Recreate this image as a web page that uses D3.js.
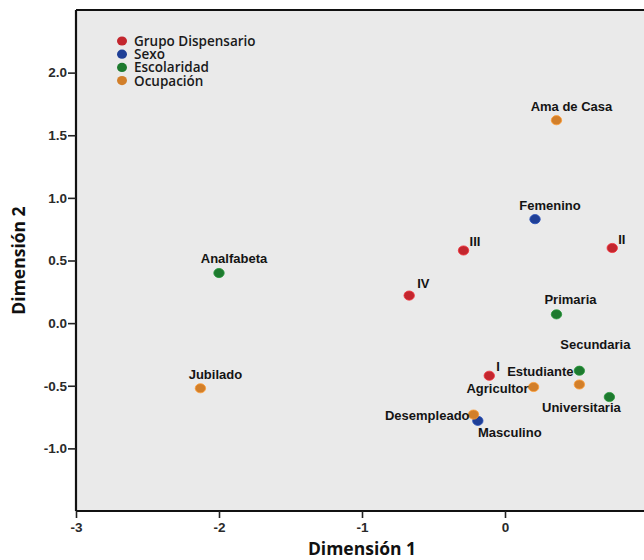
<!DOCTYPE html>
<html>
<head>
<meta charset="utf-8">
<script src="https://cdn.jsdelivr.net/npm/d3@7"></script>
<style>
  html, body { margin: 0; padding: 0; background: #ffffff; }
  svg { display: block; }
</style>
</head>
<body>
<svg id="chart" width="644" height="560"></svg>
<script>
// Category groups and their colours
const groups = ["Grupo Dispensario", "Sexo", "Escolaridad", "Ocupación"];
const groupColors = ["#c3262e", "#1f3f96", "#1d7a2e", "#d27f2a"];

// Category points: dimension 1 and dimension 2 coordinates
const pointNames = [
  "I", "II", "III", "IV",
  "Femenino", "Masculino",
  "Analfabeta", "Primaria", "Secundaria", "Universitaria",
  "Ama de Casa", "Estudiante", "Agricultor", "Desempleado", "Jubilado"
];
const pointGroups = [
  0, 0, 0, 0,
  1, 1,
  2, 2, 2, 2,
  3, 3, 3, 3, 3
];
const dim1 = [
  -0.11, 0.75, -0.29, -0.67,
  0.21, -0.19,
  -2.00, 0.36, 0.52, 0.73,
  0.36, 0.52, 0.20, -0.22, -2.13
];
const dim2 = [
  -0.42, 0.60, 0.58, 0.22,
  0.83, -0.78,
  0.40, 0.07, -0.38, -0.59,
  1.62, -0.49, -0.51, -0.73, -0.52
];

// Axis ticks
const xTicks = [-3, -2, -1, 0];
const yTicks = [-1.0, -0.5, 0.0, 0.5, 1.0, 1.5, 2.0];

// Label placement relative to each point (anchor, dx, dy in px)
const labelPlacement = {
  "I": ["start", 7, -5],
  "II": ["start", 6, -4],
  "III": ["start", 6, -4],
  "IV": ["start", 8, -8],
  "Femenino": ["middle", 15, -9],
  "Masculino": ["middle", 32, 16],
  "Analfabeta": ["middle", 15, -10],
  "Primaria": ["middle", 14, -10],
  "Secundaria": ["middle", 16, -22],
  "Universitaria": ["middle", -28, 15],
  "Ama de Casa": ["middle", 15, -9],
  "Estudiante": ["middle", -39, -8],
  "Agricultor": ["end", -5, 6],
  "Desempleado": ["end", -4, 5],
  "Jubilado": ["middle", 15, -9]
};

const svg = d3.select("#chart");
const plotL = 76, plotR = 648, plotT = 10, plotB = 511;

const x = d3.scaleLinear().domain([-3, 1]).range([plotL, plotR]);
const y = d3.scaleLinear().domain([-1.5, 2.5]).range([plotB, plotT]);

// Plot background
svg.append("rect")
  .attr("x", plotL).attr("y", plotT)
  .attr("width", 700 - plotL).attr("height", plotB - plotT)
  .attr("fill", "#eaeaea");

// Top frame line
svg.append("line")
  .attr("x1", plotL).attr("x2", 700)
  .attr("y1", plotT).attr("y2", plotT)
  .attr("stroke", "#111").attr("stroke-width", 2);

const tickFont = "'Liberation Sans', Arial, sans-serif";
const titleFont = "'Open Sans', 'Noto Sans', sans-serif";

// Y axis
const yAxis = svg.append("g")
  .attr("transform", `translate(${plotL},0)`)
  .call(d3.axisLeft(y).tickValues(yTicks).tickFormat(d => d.toFixed(1)).tickSize(8).tickPadding(1));
// X axis
const xAxis = svg.append("g")
  .attr("transform", `translate(0,${plotB})`)
  .call(d3.axisBottom(x).tickValues(xTicks).tickFormat(d => String(d)).tickSize(7).tickPadding(4));

[yAxis, xAxis].forEach(g => {
  g.select(".domain").attr("stroke", "#111").attr("stroke-width", 2.2);
  g.selectAll(".tick line").attr("stroke", "#222").attr("stroke-width", 1.6);
  g.selectAll(".tick text")
    .attr("fill", "#2a2a2a")
    .style("font-family", tickFont)
    .style("font-weight", "bold")
    .style("font-size", "13.5px");
});
yAxis.select(".domain").attr("d", `M0,${plotT}V${plotB}`);
xAxis.select(".domain").attr("d", `M${plotL},0H700`);

// Axis titles
svg.append("text")
  .attr("x", (plotL + plotR) / 2).attr("y", 555)
  .attr("text-anchor", "middle")
  .style("font-family", titleFont)
  .style("font-weight", "bold")
  .style("font-size", "17.5px")
  .attr("fill", "#111")
  .text("Dimensión 1");

svg.append("text")
  .attr("transform", `translate(25,${(plotT + plotB) / 2}) rotate(-90)`)
  .attr("text-anchor", "middle")
  .style("font-family", titleFont)
  .style("font-weight", "bold")
  .style("font-size", "17.5px")
  .attr("fill", "#111")
  .text("Dimensión 2");

// Points
const data = pointNames.map((n, i) => ({ name: n, g: pointGroups[i], d1: dim1[i], d2: dim2[i] }));

svg.append("g").selectAll("ellipse")
  .data(data).join("ellipse")
  .attr("cx", d => x(d.d1))
  .attr("cy", d => y(d.d2))
  .attr("rx", 5.2).attr("ry", 4.6)
  .attr("fill", d => groupColors[d.g])
  .attr("stroke", d => d3.color(groupColors[d.g]).brighter(0.6))
  .attr("stroke-width", 0.8);

// Point labels
svg.append("g").selectAll("text")
  .data(data).join("text")
  .attr("x", d => x(d.d1) + labelPlacement[d.name][1])
  .attr("y", d => y(d.d2) + labelPlacement[d.name][2])
  .attr("text-anchor", d => labelPlacement[d.name][0])
  .style("font-family", tickFont)
  .style("font-weight", "bold")
  .style("font-size", "13px")
  .attr("fill", "#141414")
  .text(d => d.name);

// Legend
const legend = svg.append("g");
groups.forEach((gname, i) => {
  const cy = 41 + i * 13.2;
  legend.append("ellipse")
    .attr("cx", 122).attr("cy", cy)
    .attr("rx", 5).attr("ry", 4.6)
    .attr("fill", groupColors[i]);
  legend.append("text")
    .attr("x", 134).attr("y", cy + 5)
    .style("font-family", titleFont)
    .style("font-weight", "600")
    .style("font-size", "13.5px")
    .attr("fill", "#1a1a1a")
    .text(gname);
});
</script>
</body>
</html>
